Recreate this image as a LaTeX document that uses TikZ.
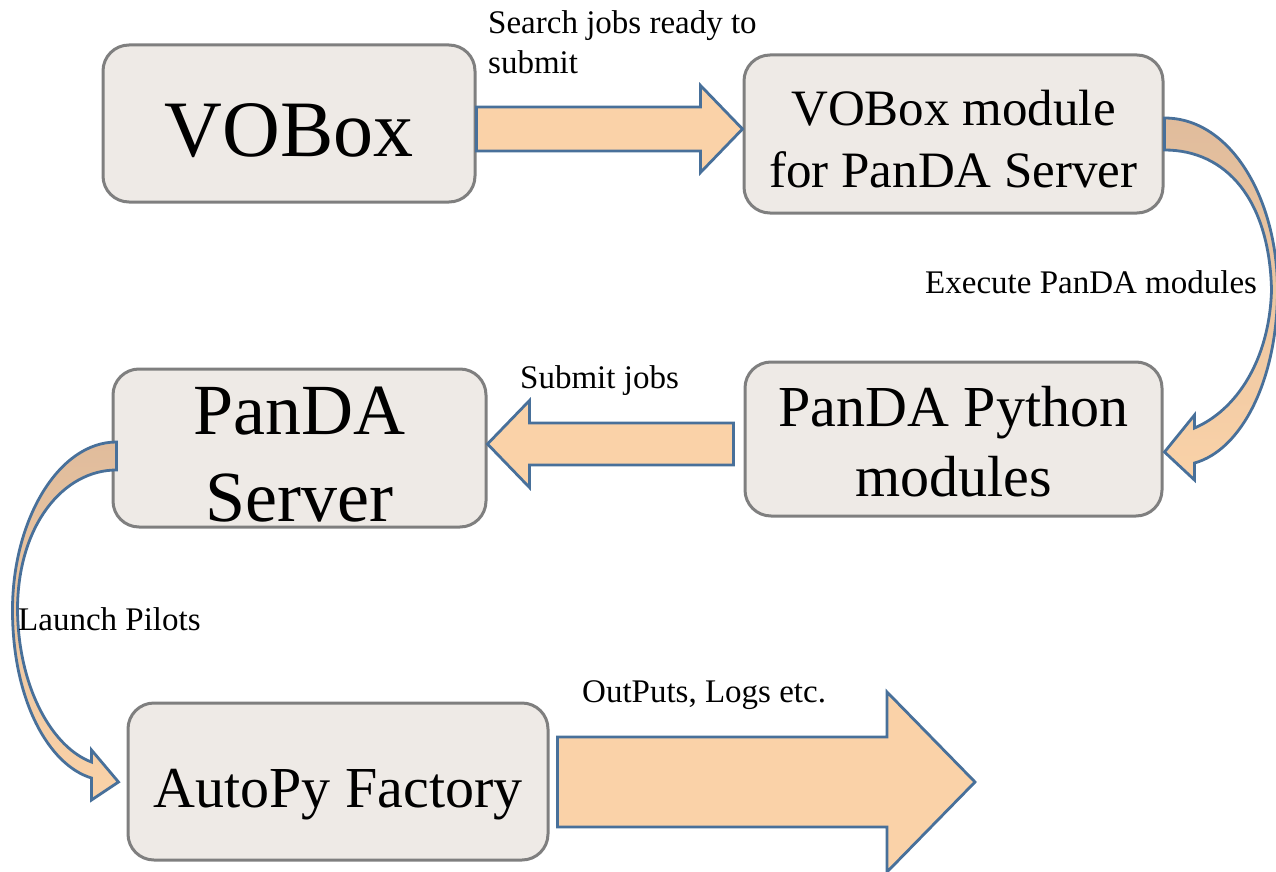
\documentclass[tikz,border=0pt]{standalone}
\usepackage{fontspec}
\setmainfont{Liberation Serif}
\usetikzlibrary{calc}
\definecolor{boxfill}{HTML}{EEEAE6}
\definecolor{boxline}{HTML}{7F7F7F}
\definecolor{arrfill}{HTML}{FAD2A8}
\definecolor{arrline}{HTML}{48709A}
\definecolor{arrdark}{HTML}{E0BC9C}
\begin{document}
\begin{tikzpicture}[x=1pt,y=-1pt,
  box/.style={draw=boxline, line width=3pt, fill=boxfill, rounded corners=26pt, inner sep=0pt, align=center},
  blockarrow/.style={draw=arrline, line width=2.8pt, fill=arrfill, line join=miter},
  curvearrow/.style={draw=arrline, line width=2.8pt, top color=arrdark, bottom color=arrfill, line join=miter},
  lbl/.style={font=\fontsize{33}{40}\selectfont, inner sep=0pt, align=left}]
\useasboundingbox (0,0) rectangle (1276,872);

% boxes
\node[box, minimum width=372pt, minimum height=157pt, font=\fontsize{80}{96}\selectfont, text height=67pt, text depth=0pt] (vobox) at (289,123.5) {VOBox};
\node[box, minimum width=419pt, minimum height=158pt, font=\fontsize{51}{62}\selectfont] (vom) at (953.5,134) {\rule{0pt}{45pt}VOBox module\\for PanDA Server};
\node[box, minimum width=373pt, minimum height=158pt, font=\fontsize{72}{87}\selectfont] (ps) at (299.5,448) {\rule{0pt}{61pt}PanDA\\Server};
\node[box, minimum width=417pt, minimum height=154pt, font=\fontsize{58}{70}\selectfont] (ppm) at (953.5,439) {\rule{0pt}{45pt}PanDA Python\\modules};
\node[box, minimum width=420pt, minimum height=157pt, font=\fontsize{58}{70}\selectfont, text height=51pt, text depth=0pt] (apf) at (338,781.5) {AutoPy Factory};

% straight block arrows
\coordinate (a1s) at ($(vobox.east)+(0,5.5)$);
\coordinate (a1e) at ($(vom.west)+(0,-5)$);
\path[blockarrow] let \p1=(a1s), \p2=(a1e) in
  (\x1,\y2+22pt) -- (\x2-42pt,\y2+22pt) -- (\x2-42pt,\y2+43.5pt) -- (\p2)
  -- (\x2-42pt,\y2-43.5pt) -- (\x2-42pt,\y2-22pt) -- (\x1,\y2-22pt) -- cycle;

\coordinate (a2s) at ($(ppm.west)+(-10,5)$);
\coordinate (a2e) at ($(ps.east)+(0,-4)$);
\path[blockarrow] let \p1=(a2s), \p2=(a2e) in
  (\x1,\y1+21pt) -- (\x2+42pt,\y1+21pt) -- (\x2+42pt,\y1+43.5pt) -- (\x2,\y1)
  -- (\x2+42pt,\y1-43.5pt) -- (\x2+42pt,\y1-21pt) -- (\x1,\y1-21pt) -- cycle;

\coordinate (a3s) at ($(apf.east)+(8,0.5)$);
\coordinate (a3e) at (975,782);
\path[blockarrow] let \p1=(a3s), \p2=(a3e) in
  (\x1,\y2+45pt) -- (\x2-88pt,\y2+45pt) -- (\x2-88pt,\y2+90pt) -- (\p2)
  -- (\x2-88pt,\y2-90pt) -- (\x2-88pt,\y2-45pt) -- (\x1,\y2-45pt) -- cycle;

% curved arrows
\begin{scope}[shift={(vom.east)}]
\path[curvearrow] (0,-16) .. controls (67,-16) and (113,66) .. (113,156)
  .. controls (113,246) and (77,316) .. (30,329) -- (30,346) -- (0,318) -- (30,281) -- (30,294)
  .. controls (72,276) and (105,226) .. (107,156)
  .. controls (105,66) and (62,16) .. (0,16) -- cycle;
\end{scope}
\begin{scope}[shift={(ps.west)}]
\path[curvearrow] (5,-6) .. controls (-53,-6) and (-99,72) .. (-99,162)
  .. controls (-99,252) and (-63,317) .. (-20,330) -- (-20,352) -- (7,334) -- (-20,302) -- (-20,314)
  .. controls (-58,300) and (-93,242) .. (-94,162)
  .. controls (-94,77) and (-48,22) .. (5,22) -- cycle;
\end{scope}

% labels
\node[lbl, anchor=north west] (l1) at (488,10.5) {Search jobs ready to\\submit};
\node[lbl, anchor=base west] (l2) at (925,293) {Execute PanDA modules};
\node[lbl, anchor=base west] (l3) at (520,388) {Submit jobs};
\node[lbl, anchor=base west] (l4) at (18,630) {Launch Pilots};
\node[lbl, anchor=base west] (l5) at (582,702) {OutPuts, Logs etc.};
\end{tikzpicture}
\end{document}
